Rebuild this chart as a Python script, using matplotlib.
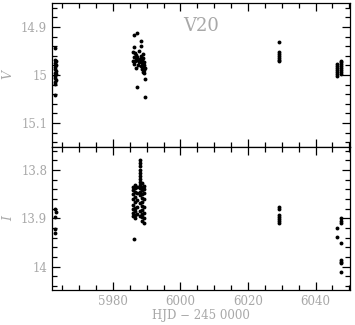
import numpy as np
import matplotlib
matplotlib.use("Agg")
import matplotlib.pyplot as plt
from matplotlib.ticker import MultipleLocator

# Light curve of V20, HJD - 2450000
v_hjd = [5963.0, 5962.9, 5963.1, 5962.8, 5963.2, 5962.9, 5963.0, 5963.2, 5962.8, 5963.1,
         5963.0, 5962.9, 5963.2, 5962.8, 5963.0, 5963.0,
         5986.2, 5987.2, 5988.4, 5988.4, 5986.2, 5986.0, 5986.5, 5987.0, 5987.8, 5988.2,
         5988.8, 5986.3, 5986.8, 5987.3, 5987.9, 5988.5, 5989.0, 5986.1, 5986.6, 5987.1,
         5987.6, 5988.1, 5988.7, 5989.2, 5986.4, 5987.4, 5988.3, 5988.9, 5989.3, 5987.0,
         5988.6, 5989.1, 5989.4, 5988.9, 5989.3, 5989.4, 5987.2, 5989.4,
         6029.2, 6029.2, 6029.2, 6029.2, 6029.2, 6029.2, 6029.2,
         6046.2, 6046.2, 6046.2, 6046.2, 6046.2, 6046.2, 6046.2,
         6047.5, 6047.5, 6047.5, 6047.5, 6047.5, 6047.5, 6047.5, 6047.5]
v_mag = [14.943, 14.968, 14.972, 14.976, 14.980, 14.984, 14.988, 14.992, 14.995, 14.998,
         15.002, 15.006, 15.010, 15.014, 15.018, 15.042,
         14.917, 14.913, 14.930, 14.940, 14.941, 14.952, 14.955, 14.958, 14.950, 14.960,
         14.957, 14.962, 14.965, 14.962, 14.966, 14.968, 14.965, 14.970, 14.972, 14.969,
         14.974, 14.972, 14.976, 14.974, 14.978, 14.980, 14.982, 14.984, 14.980, 14.986,
         14.988, 14.990, 14.986, 14.994, 14.996, 15.009, 15.026, 15.045,
         14.931, 14.952, 14.956, 14.960, 14.964, 14.968, 14.971,
         14.978, 14.982, 14.986, 14.990, 14.994, 14.998, 15.003,
         14.970, 14.974, 14.978, 14.982, 14.986, 14.990, 14.994, 14.998]

i_hjd = [5962.9, 5963.1, 5962.8, 5963.0, 5962.9,
         5988.1, 5988.1, 5988.1, 5988.1, 5988.1, 5988.1, 5988.1, 5988.1,
         5986.0, 5986.0, 5986.0, 5986.0, 5986.0, 5986.0, 5986.0, 5986.0,
         5986.6, 5986.6, 5986.6, 5986.6, 5986.6, 5986.6, 5986.6, 5986.6, 5986.6,
         5987.2, 5987.2, 5987.2, 5987.2, 5987.2,
         5988.0, 5988.0, 5988.0, 5988.0, 5988.0, 5988.0, 5988.0,
         5988.6, 5988.6, 5988.6, 5988.6, 5988.6, 5988.6, 5988.6, 5988.6, 5988.6, 5988.6, 5988.6,
         5989.2, 5989.2, 5989.2, 5989.2, 5989.2, 5989.2, 5989.2, 5989.2,
         5986.2,
         6029.2, 6029.2, 6029.2, 6029.2, 6029.2, 6029.2, 6029.2,
         6047.5, 6047.5, 6047.5, 6046.3, 6046.3, 6047.5, 6047.5, 6047.5, 6047.5, 6047.5]
i_mag = [13.881, 13.886, 13.898, 13.921, 13.931,
         13.779, 13.786, 13.792, 13.799, 13.806, 13.812, 13.818, 13.824,
         13.834, 13.842, 13.850, 13.860, 13.872, 13.880, 13.888, 13.895,
         13.830, 13.838, 13.846, 13.856, 13.866, 13.878, 13.885, 13.892, 13.899,
         13.836, 13.848, 13.862, 13.876, 13.890,
         13.830, 13.838, 13.846, 13.852, 13.868, 13.884, 13.896,
         13.826, 13.834, 13.842, 13.850, 13.858, 13.866, 13.874, 13.882, 13.890, 13.898, 13.906,
         13.832, 13.840, 13.848, 13.860, 13.876, 13.888, 13.900, 13.910,
         13.943,
         13.877, 13.880, 13.893, 13.897, 13.901, 13.905, 13.910,
         13.900, 13.905, 13.910, 13.919, 13.939, 13.950, 13.986, 13.990, 13.993, 14.011]

star_name = "V20"
grey = "#a8a8a8"

plt.rcParams['font.family'] = 'serif'
plt.rcParams['font.serif'] = ['DejaVu Serif']

fig = plt.figure(figsize=(3.55, 3.25), dpi=100)
ax1 = fig.add_axes([0.1465, 0.548, 0.8395, 0.443])
ax2 = fig.add_axes([0.1465, 0.108, 0.8395, 0.440], sharex=ax1)

ax1.plot(v_hjd, v_mag, 'o', color='black', markersize=2.8, markeredgewidth=0)
ax2.plot(i_hjd, i_mag, 'o', color='black', markersize=2.8, markeredgewidth=0)

ax1.set_xlim(5962.0, 6050.2)
ax1.set_ylim(15.15, 14.85)
ax2.set_ylim(14.048, 13.752)

for ax in (ax1, ax2):
    ax.xaxis.set_major_locator(MultipleLocator(20))
    ax.xaxis.set_minor_locator(MultipleLocator(5))
    ax.yaxis.set_major_locator(MultipleLocator(0.1))
    ax.yaxis.set_minor_locator(MultipleLocator(0.02))
    ax.tick_params(which='both', direction='in', top=True, right=True,
                   color='black', labelcolor=grey, labelsize=8.5, width=0.9)
    ax.tick_params(which='major', length=6)
    ax.tick_params(which='minor', length=3.5)
    for s in ax.spines.values():
        s.set_linewidth(0.9)

ax1.tick_params(labelbottom=False)
ax1.set_yticks([14.9, 15.0, 15.1])
ax1.set_yticklabels(['14.9', '15', '15.1'])
ax2.set_yticks([13.8, 13.9, 14.0])
ax2.set_yticklabels(['13.8', '13.9', '14'])

ax1.set_ylabel('V', color=grey, fontsize=9, style='italic')
ax2.set_ylabel('I', color=grey, fontsize=9, style='italic')
ax1.yaxis.set_label_coords(-0.125, 0.5)
ax2.yaxis.set_label_coords(-0.125, 0.5)
ax2.set_xlabel('HJD \u2212 245 0000', color=grey, fontsize=8.5, labelpad=1)

ax1.text(0.44, 0.84, star_name, transform=ax1.transAxes, color=grey,
         fontsize=13, va='center', ha='left')

fig.savefig('out.png', dpi=100)
